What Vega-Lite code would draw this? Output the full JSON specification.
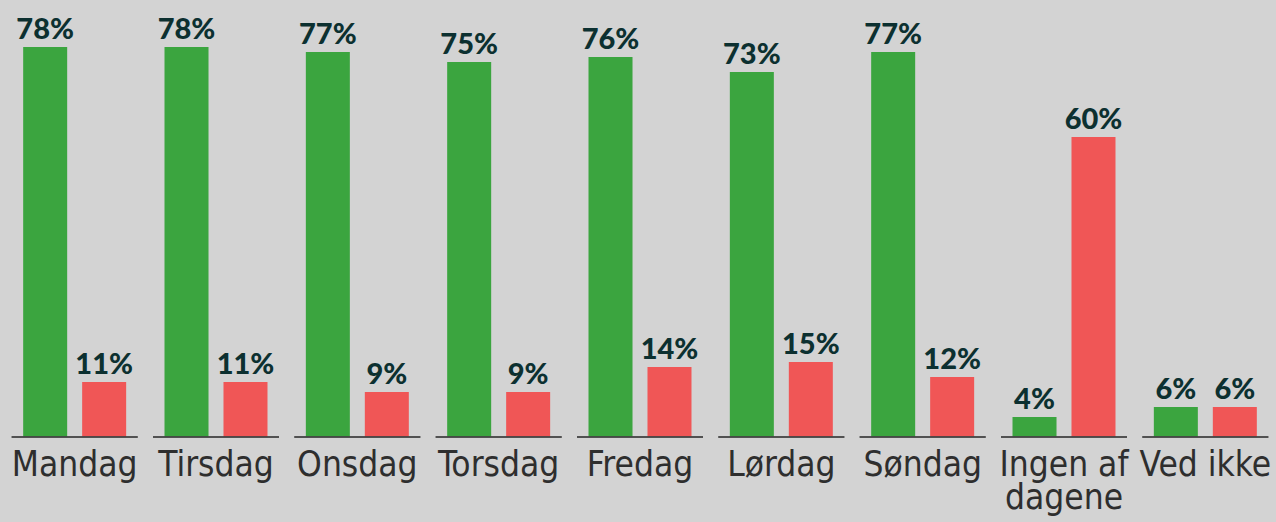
{
  "$schema": "https://vega.github.io/schema/vega-lite/v6.json",
  "width": 1272,
  "height": 437,
  "autosize": {"type": "none"},
  "padding": {"left": 4, "top": 0, "right": 0, "bottom": 85},
  "background": "#d3d3d3",
  "config": {"view": {"stroke": null}},
  "data": {
    "values": [
      {"dag": "Mandag", "svar": "Ja", "pct": 78},
      {"dag": "Mandag", "svar": "Nej", "pct": 11},
      {"dag": "Tirsdag", "svar": "Ja", "pct": 78},
      {"dag": "Tirsdag", "svar": "Nej", "pct": 11},
      {"dag": "Onsdag", "svar": "Ja", "pct": 77},
      {"dag": "Onsdag", "svar": "Nej", "pct": 9},
      {"dag": "Torsdag", "svar": "Ja", "pct": 75},
      {"dag": "Torsdag", "svar": "Nej", "pct": 9},
      {"dag": "Fredag", "svar": "Ja", "pct": 76},
      {"dag": "Fredag", "svar": "Nej", "pct": 14},
      {"dag": "Lørdag", "svar": "Ja", "pct": 73},
      {"dag": "Lørdag", "svar": "Nej", "pct": 15},
      {"dag": "Søndag", "svar": "Ja", "pct": 77},
      {"dag": "Søndag", "svar": "Nej", "pct": 12},
      {"dag": "Ingen af dagene", "svar": "Ja", "pct": 4},
      {"dag": "Ingen af dagene", "svar": "Nej", "pct": 60},
      {"dag": "Ved ikke", "svar": "Ja", "pct": 6},
      {"dag": "Ved ikke", "svar": "Nej", "pct": 6}
    ]
  },
  "encoding": {
    "x": {
      "field": "dag",
      "type": "nominal",
      "sort": null,
      "scale": {"paddingInner": 0, "paddingOuter": 0},
      "axis": {
        "title": null,
        "domain": false,
        "ticks": false,
        "labelAngle": 0,
        "labelFont": "DejaVu Sans Condensed, sans-serif",
        "labelFontSize": 35,
        "labelColor": "#2e2e2e",
        "labelPadding": 10,
        "labelLineHeight": 33,
        "labelExpr": "datum.label == 'Ingen af dagene' ? ['Ingen af', 'dagene'] : datum.label"
      }
    }
  },
  "layer": [
    {
      "mark": {"type": "bar"},
      "encoding": {
        "xOffset": {
          "field": "svar",
          "type": "nominal",
          "scale": {"paddingInner": 0.254, "paddingOuter": 0.325}
        },
        "y": {
          "field": "pct",
          "type": "quantitative",
          "scale": {"domain": [0, 87.4], "nice": false},
          "axis": null
        },
        "color": {
          "field": "svar",
          "type": "nominal",
          "scale": {"domain": ["Ja", "Nej"], "range": ["#3ba53f", "#f05656"]},
          "legend": null
        }
      }
    },
    {
      "transform": [{"calculate": "datum.pct + '%'", "as": "lbl"}],
      "mark": {
        "type": "text",
        "baseline": "alphabetic",
        "dy": -8,
        "font": "Lato",
        "fontWeight": 900,
        "fontSize": 29,
        "color": "#0c3030"
      },
      "encoding": {
        "xOffset": {"field": "svar", "type": "nominal"},
        "y": {"field": "pct", "type": "quantitative"},
        "text": {"field": "lbl", "type": "nominal"}
      }
    },
    {
      "mark": {"type": "tick", "size": 126, "thickness": 2, "color": "#444444", "orient": "horizontal"},
      "encoding": {
        "y": {"datum": 0}
      }
    }
  ],
  "resolve": {"scale": {"xOffset": "shared"}}
}
